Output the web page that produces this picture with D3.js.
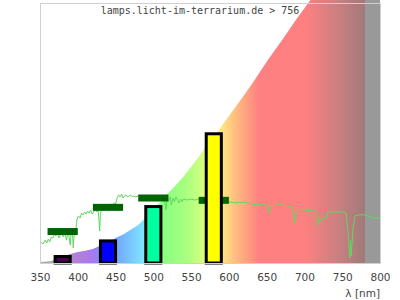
<!DOCTYPE html>
<html>
<head>
<meta charset="utf-8">
<script src="https://cdn.jsdelivr.net/npm/d3@7"></script>
<style>
  body { margin: 0; background: #fff; }
  svg { display: block; }
  .tick text { font-family: "DejaVu Sans", sans-serif; font-size: 10.5px; fill: #444; }
</style>
</head>
<body>
<div id="chart"></div>
<script>
// lamp spectrum chart

// x axis tick labels
var tickLabels = [350, 400, 450, 500, 550, 600, 650, 700, 750, 800];

// reference curve (coloured area)
var curveWl = [350, 360, 365, 370, 380, 390, 400, 410, 420, 430, 440, 450, 460, 470, 480, 490,
  500, 510, 520, 530, 540, 550, 560, 570, 580, 590, 600, 610, 620, 630, 640, 650, 660, 670,
  680, 690, 700, 710, 720, 740, 760, 780, 800];
var curveVal = [0.4, 0.6, 0.8, 1.5, 2.3, 3.5, 4.2, 4.7, 5.4, 6.7, 8.0, 9.6, 11.0, 12.8, 14.6, 17.5,
  21.0, 23.5, 27.0, 30.0, 33.3, 37.0, 40.8, 45.0, 48.5, 52.5, 56.5, 60.5, 64.5, 68.7, 73.0, 77.4, 81.5, 85.6,
  89.8, 94.0, 98.0, 102, 106, 113, 120, 127, 134];

// measured lamp spectrum (green line)
var lineWl = [351, 354, 357, 359, 361, 363, 365, 367, 369, 371, 373, 375, 377, 379, 381, 383, 385, 386,
  388, 390, 391, 393, 394, 395, 397, 399, 401, 403, 405, 407, 409, 411, 413, 415, 417, 419, 421, 423,
  425, 427, 429, 430, 432, 434, 436, 438, 440, 442, 444, 446, 448, 450, 452, 454, 456, 458, 460, 462,
  464, 466, 468, 470, 472, 474, 476, 480, 490, 500, 510, 513, 515, 517, 518, 520, 522, 524, 526, 528,
  530, 532, 534, 536, 538, 540, 545, 550, 555, 560, 570, 580, 590, 600, 610, 620, 630, 640, 645, 649,
  651, 653, 655, 660, 670, 680, 685, 687, 689, 692, 700, 710, 715, 716, 718, 720, 722, 725, 727, 729,
  731, 740, 750, 755, 758, 760, 761, 762, 764, 767, 772, 780, 787, 792, 800];
var lineVal = [8.1, 7.3, 8.8, 7.7, 9.2, 8.1, 10.0, 9.6, 11.2, 10.4, 11.5, 9.6, 10.8, 11.2, 10.0, 11.9, 8.8, 10.4,
  11.2, 6.9, 10.8, 11.5, 5.8, 10.4, 11.2, 16.9, 18.1, 17.3, 19.2, 18.5, 19.6, 18.8, 20.0, 19.2, 20.4, 18.8, 19.6, 20.8,
  19.6, 20.4, 12.3, 19.2, 20.8, 21.5, 20.4, 21.9, 22.3, 21.5, 22.7, 22.3, 23.1, 22.7, 25.0, 26.2, 25.4, 26.5, 25.0, 25.8,
  26.2, 25.4, 25.8, 26.2, 25.4, 25.8, 25.4, 25.8, 25.4, 25.8, 25.0, 24.6, 23.5, 20.4, 25.0, 23.8, 25.4, 22.3, 25.0, 23.5,
  25.4, 24.2, 23.1, 24.6, 23.5, 24.6, 24.2, 24.6, 24.2, 24.6, 24.2, 23.8, 23.8, 23.5, 23.1, 23.5, 22.7, 22.3, 22.7, 22.3,
  21.5, 19.2, 21.9, 22.3, 22.3, 21.9, 21.5, 15.0, 19.6, 20.8, 20.4, 20.0, 20.0, 15.8, 14.6, 17.3, 16.2, 17.7, 16.9, 17.3,
  19.6, 19.6, 19.6, 19.2, 10.8, 1.9, 8.8, 2.7, 12.7, 18.1, 18.5, 18.5, 17.7, 17.3, 17.3];

// bars (20 nm bands) and their 40 nm averages
var barCenter = [380, 440, 500, 580];
var barVal = [2.5, 8.5, 21.7, 49.7];
var avgVal = [12.1, 21.4, 25.0, 24.1];

(function() {
  var width = 400;
  var height = 300;
  var margin = { top: 3, right: 20, bottom: 37, left: 40 };

  var xScale = d3.scaleLinear().domain([350, 800]).range([margin.left, width - margin.right]);
  var yScale = d3.scaleLinear().domain([0, 100]).range([height - margin.bottom, margin.top]);

  // spectrum colours for the area
  var barColors = ['#4b0050', '#0000ff', '#00ffa0', '#ffff00'];
  var spectrumStops = [
    [350, '#aca8ac'], [378, '#aca8ac'], [380, '#b888c8'], [400, '#b080d8'], [420, '#a878f0'],
    [430, '#7a8cff'], [450, '#72a4ff'], [470, '#78c8ff'], [488, '#80e6ff'], [498, '#84ffb8'],
    [510, '#88ff80'], [540, '#a4ff80'], [560, '#c8ff80'], [575, '#f0ff80'], [590, '#ffe680'],
    [600, '#ffd080'], [615, '#ffb080'], [630, '#ff9480'], [640, '#ff8080'], [700, '#ff8080'],
    [740, '#d08080'], [779.9, '#a07a7a'], [780, '#999999'], [800, '#999999']
  ];

  var svg = d3.select('#chart').append('svg')
    .attr('width', width).attr('height', height);

  var grad = svg.append('defs').append('linearGradient')
    .attr('id', 'spec')
    .attr('gradientUnits', 'userSpaceOnUse')
    .attr('x1', xScale(350)).attr('x2', xScale(800))
    .attr('y1', 0).attr('y2', 0);
  grad.selectAll('stop').data(spectrumStops).enter().append('stop')
    .attr('offset', function(d) { return (d[0] - 350) / 450; })
    .attr('stop-color', function(d) { return d[1]; });

  // coloured area
  var area = d3.area()
    .x(function(d) { return xScale(d[0]); })
    .y0(yScale(0))
    .y1(function(d) { return yScale(d[1]); });
  svg.append('path')
    .datum(d3.zip(curveWl, curveVal))
    .attr('d', area)
    .attr('fill', 'url(#spec)');

  // green spectrum line
  var line = d3.line()
    .x(function(d) { return xScale(d[0]); })
    .y(function(d) { return yScale(d[1]); });
  svg.append('path')
    .datum(d3.zip(lineWl, lineVal))
    .attr('d', line)
    .attr('fill', 'none')
    .attr('stroke', '#60d860')
    .attr('stroke-width', 1);

  // average markers
  svg.selectAll('.avg').data(barCenter).enter().append('rect')
    .attr('class', 'avg')
    .attr('x', function(d) { return xScale(d - 20); })
    .attr('width', function(d) { return xScale(d + 20) - xScale(d - 20); })
    .attr('y', function(d, i) { return yScale(avgVal[i]) - 3.5; })
    .attr('height', 7)
    .attr('fill', '#006400');

  // bars
  svg.selectAll('.bar').data(barCenter).enter().append('rect')
    .attr('class', 'bar')
    .attr('x', function(d) { return xScale(d - 10); })
    .attr('width', function(d) { return xScale(d + 10) - xScale(d - 10); })
    .attr('y', function(d, i) { return yScale(barVal[i]); })
    .attr('height', function(d, i) { return yScale(0) - yScale(barVal[i]); })
    .attr('fill', function(d, i) { return barColors[i]; })
    .attr('stroke', '#000')
    .attr('stroke-width', 3);

  // frame
  svg.append('rect')
    .attr('x', xScale(350) + 0.5).attr('y', yScale(100) + 0.5)
    .attr('width', xScale(800) - xScale(350))
    .attr('height', yScale(0) - yScale(100))
    .attr('fill', 'none')
    .attr('stroke', '#d0d0d0')
    .attr('stroke-width', 1);

  // x axis
  var xAxis = svg.append('g')
    .attr('transform', 'translate(0,' + yScale(0) + ')')
    .call(d3.axisBottom(xScale).tickValues(tickLabels).tickSize(0).tickPadding(11));
  xAxis.select('.domain').remove();

  svg.append('text')
    .attr('x', xScale(800)).attr('y', 297)
    .attr('text-anchor', 'end')
    .style('font-family', '"DejaVu Sans", sans-serif')
    .style('font-size', '10.5px')
    .style('fill', '#444')
    .text('λ [nm]');

  // title
  svg.append('text')
    .attr('x', 200).attr('y', 14)
    .attr('text-anchor', 'middle')
    .style('font-family', '"DejaVu Sans Mono", monospace')
    .style('font-size', '10px')
    .style('fill', '#444')
    .text('lamps.licht-im-terrarium.de > 756');
})();
</script>
</body>
</html>
